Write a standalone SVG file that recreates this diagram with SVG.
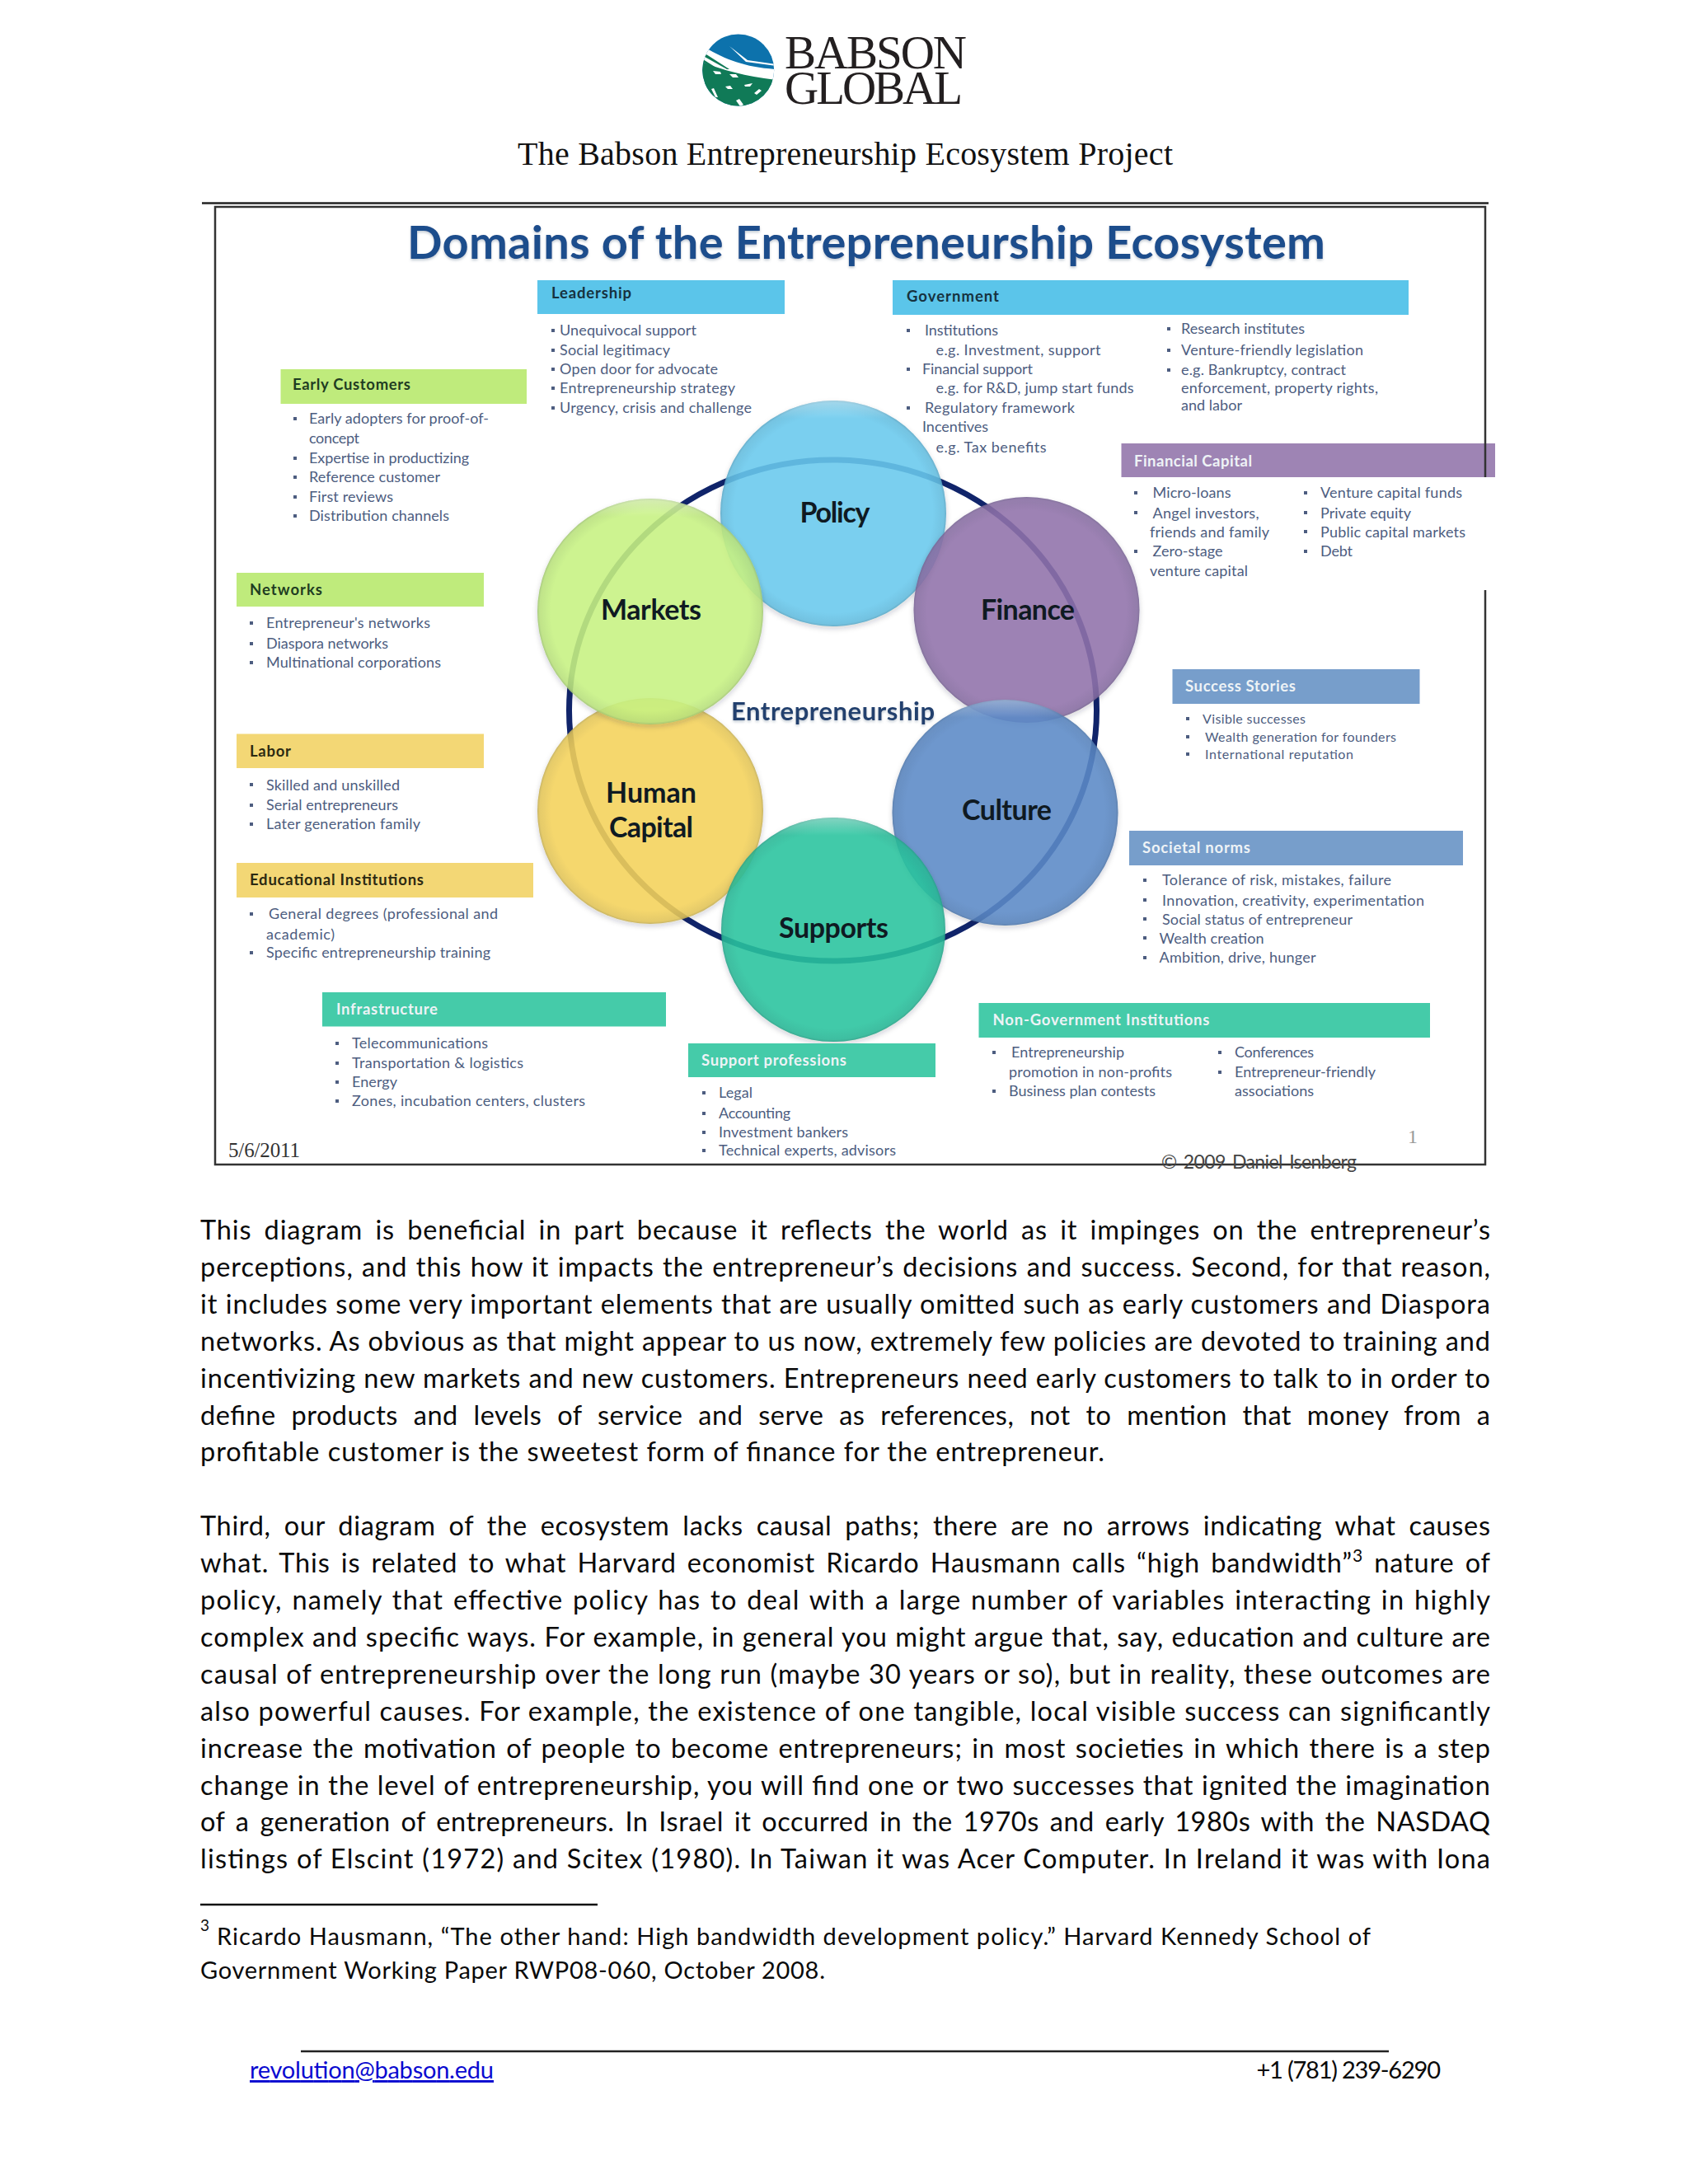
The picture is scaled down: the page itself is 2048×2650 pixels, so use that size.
<svg xmlns="http://www.w3.org/2000/svg" width="2048" height="2650" viewBox="0 0 2048 2650">
<style>
text{font-family:"Lato","Liberation Sans",sans-serif}
.h{font-size:18.500px;font-weight:700;fill:#1f3d22}
.hw{font-size:18.500px;font-weight:700;fill:#eef3f6}
.i{font-size:18px;fill:#4d5d80}
.c{font-size:34px;font-weight:700;fill:#0f1a22}
.p{font-size:32.500px;fill:#0a0a0a}
.f{font-size:29px;fill:#0a0a0a}
.b{fill:#4d5d80}
.rule{stroke:#222;stroke-width:2.500;fill:none}
.green{fill:#bfeb7c}.blue{fill:#5bc5ea}.purple{fill:#9e84b4}.yellow{fill:#f3d775}.steel{fill:#779ecb}.teal{fill:#45cba9}
.disc{fill-opacity:.86}
.edge{fill:url(#edge)}
.gl{fill:url(#gloss)}
</style>
<defs>
<radialGradient id="edge" cx="50%" cy="50%" r="50%"><stop offset="0.88" stop-color="#203040" stop-opacity="0"/><stop offset="0.98" stop-color="#203040" stop-opacity=".08"/><stop offset="1" stop-color="#203040" stop-opacity=".22"/></radialGradient>
<linearGradient id="gloss" x1="0" y1="0" x2="0" y2="1"><stop offset="0" stop-color="#fff" stop-opacity=".35"/><stop offset="0.08" stop-color="#fff" stop-opacity="0"/><stop offset="1" stop-color="#fff" stop-opacity="0"/></linearGradient>
<filter id="sh" x="-10%" y="-10%" width="120%" height="120%"><feDropShadow dx="0" dy="3" stdDeviation="3" flood-color="#223" flood-opacity=".22"/></filter>
<filter id="ts" x="-5%" y="-20%" width="110%" height="140%"><feDropShadow dx="0" dy="2" stdDeviation="1.500" flood-color="#89a" flood-opacity=".5"/></filter>
<clipPath id="lc"><circle cx="895.700" cy="85" r="43.500"/></clipPath>
</defs>
<rect width="2048" height="2650" fill="#fff"/>

<g id="logo">
<g clip-path="url(#lc)">
<rect x="850" y="40" width="92" height="92" fill="#0d72ac"/>
<path d="M856 58 C880 72 905 82 942 84 L942 98 C905 95 880 88 850 74 Z" fill="#fff"/>
<path d="M850 75 C875 84 905 93 942 97 L942 132 L850 132 Z" fill="#107a57"/>
<path d="M885 56 L907 73 L942 78 L942 80 L905 75 Z" fill="#fff"/>
<path d="M857 66 L885 84 L882 84 L855 69 Z M853 72 L872 84 L869 84 L852 75 Z" fill="#107a57"/>
<path d="M865 86 L874 87 L875 90 L868 90 Z M885 90 L893 90 L896 94 L889 94 Z M903 103 L913 101 L910 105 L904 105 Z M880 105 L886 104 L889 108 L883 108 Z M915 113 L921 108 L924 110 L918 115 Z M893 122 L897 120 L902 127 L898 129 Z M863 108 L866 107 L871 118 L868 118 Z" fill="#fff"/>
</g>
<text x="952" y="83" font-size="57" textLength="221" style="font-family:'Liberation Serif',serif" fill="#231f20">BABSON</text>
<text x="952" y="126" font-size="57" textLength="216" style="font-family:'Liberation Serif',serif" fill="#231f20">GLOBAL</text>
</g>
<text id="page-title" x="628" y="200" font-size="40" textLength="795" style="font-family:'Liberation Serif',serif" fill="#111">The Babson Entrepreneurship Ecosystem Project</text>
<path class="rule" d="M245 246.500H1806"/>

<g id="connectors"><ellipse cx="1010.500" cy="862" rx="320" ry="304" fill="none" stroke="#10246a" stroke-width="7"/></g>

<g id="slide-title"><text x="494" y="314" font-size="56" font-weight="700" textLength="1114" fill="#1f4d8c" filter="url(#ts)">Domains of the Entrepreneurship Ecosystem</text></g>

<g id="policy"><circle class="disc" cx="1011" cy="623" r="137" fill="#6accf0" filter="url(#sh)"/><circle class="edge" cx="1011" cy="623" r="137"/><circle class="gl" cx="1011" cy="623" r="137"/></g>
<g id="finance"><circle class="disc" cx="1245.500" cy="740" r="137" fill="#9273ac" filter="url(#sh)"/><circle class="edge" cx="1245.500" cy="740" r="137"/></g>
<g id="culture"><circle class="disc" cx="1219.500" cy="986" r="137" fill="#5c8cc9" filter="url(#sh)"/><circle class="edge" cx="1219.500" cy="986" r="137"/><circle class="gl" cx="1219.500" cy="986" r="137"/></g>
<g id="human-capital"><circle class="disc" cx="789" cy="984" r="137" fill="#f7d55b" filter="url(#sh)"/><circle class="edge" cx="789" cy="984" r="137"/></g>
<g id="supports"><circle class="disc" cx="1011" cy="1128" r="136" fill="#29c69f" filter="url(#sh)"/><circle class="edge" cx="1011" cy="1128" r="136"/><circle class="gl" cx="1011" cy="1128" r="136"/></g>
<g id="markets"><circle class="disc" cx="789" cy="742" r="137" fill="#caf584" filter="url(#sh)"/><circle class="edge" cx="789" cy="742" r="137"/><circle class="gl" cx="789" cy="742" r="137"/></g>
<g id="circle-labels">
<text class="c" x="970.500" y="634" textLength="85">Policy</text>
<text class="c" x="729" y="752" textLength="122">Markets</text>
<text class="c" x="1190" y="752" textLength="114">Finance</text>
<text class="c" x="735" y="974" textLength="110">Human</text>
<text class="c" x="739" y="1016" textLength="102">Capital</text>
<text class="c" x="1167" y="995" textLength="109">Culture</text>
<text class="c" x="945" y="1138" textLength="133">Supports</text>
<text x="887" y="873.500" font-size="31" font-weight="700" textLength="247" fill="#21406e" filter="url(#ts)">Entrepreneurship</text>
</g>

<g id="leadership">
<rect class="blue" x="652" y="340" width="300" height="41"/>
<text class="h" style="fill:#16323f" x="669" y="362" textLength="97">Leadership</text>
<path class="b" d="M669 399h4v4h-4zM669 423h4v4h-4zM669 446h4v4h-4zM669 469h4v4h-4zM669 493h4v4h-4z"/>
<text class="i" x="679" y="407" textLength="166">Unequivocal support</text>
<text class="i" x="679" y="431" textLength="134">Social legitimacy</text>
<text class="i" x="679" y="454" textLength="192">Open door for advocate</text>
<text class="i" x="679" y="477" textLength="213">Entrepreneurship strategy</text>
<text class="i" x="679" y="501" textLength="233">Urgency, crisis and challenge</text>
</g>

<g id="government">
<rect class="blue" x="1083" y="340" width="626" height="42"/>
<text class="h" style="fill:#16323f" x="1100" y="366" textLength="112">Government</text>
<path class="b" d="M1100 399h4v4h-4zM1100 446h4v4h-4zM1100 493h4v4h-4zM1416 397h4v4h-4zM1416 423h4v4h-4zM1416 447h4v4h-4z"/>
<text class="i" x="1122" y="407" textLength="89">Institutions</text>
<text class="i" x="1135.500" y="431" textLength="200">e.g. Investment, support</text>
<text class="i" x="1119" y="454" textLength="134">Financial support</text>
<text class="i" x="1135.500" y="477" textLength="240">e.g. for R&amp;D, jump start funds</text>
<text class="i" x="1122" y="501" textLength="182">Regulatory framework</text>
<text class="i" x="1119" y="524" textLength="80">Incentives</text>
<text class="i" x="1135.500" y="549" textLength="134">e.g. Tax benefits</text>
<text class="i" x="1433" y="405" textLength="150">Research institutes</text>
<text class="i" x="1433" y="431" textLength="221">Venture-friendly legislation</text>
<text class="i" x="1433" y="455" textLength="200">e.g. Bankruptcy, contract</text>
<text class="i" x="1433" y="477" textLength="239">enforcement, property rights,</text>
<text class="i" x="1433" y="498" textLength="74">and labor</text>
</g>

<g id="early-customers">
<rect class="green" x="340.500" y="448" width="298.500" height="42"/>
<text class="h" x="355" y="473" textLength="143">Early Customers</text>
<path class="b" d="M356 506h4v4h-4zM356 554h4v4h-4zM356 577h4v4h-4zM356 601h4v4h-4zM356 624h4v4h-4z"/>
<text class="i" x="375" y="514" textLength="218">Early adopters for proof-of-</text>
<text class="i" x="375" y="538" textLength="61">concept</text>
<text class="i" x="375" y="562" textLength="194">Expertise in productizing</text>
<text class="i" x="375" y="585" textLength="159">Reference customer</text>
<text class="i" x="375" y="609" textLength="102">First reviews</text>
<text class="i" x="375" y="632" textLength="170">Distribution channels</text>
</g>

<g id="networks">
<rect class="green" x="287" y="695" width="300" height="41"/>
<text class="h" x="303" y="722" textLength="88">Networks</text>
<path class="b" d="M303 754h4v4h-4zM303 779h4v4h-4zM303 802h4v4h-4z"/>
<text class="i" x="323" y="762" textLength="199">Entrepreneur's networks</text>
<text class="i" x="323" y="787" textLength="148">Diaspora networks</text>
<text class="i" x="323" y="810" textLength="212">Multinational corporations</text>
</g>

<g id="labor">
<rect class="yellow" x="287" y="890.500" width="300" height="41.500"/>
<text class="h" x="303" y="918" textLength="50" style="fill:#2c2a12">Labor</text>
<path class="b" d="M303 950h4v4h-4zM303 975h4v4h-4zM303 998h4v4h-4z"/>
<text class="i" x="323" y="958.500" textLength="162">Skilled and unskilled</text>
<text class="i" x="323" y="983" textLength="160">Serial entrepreneurs</text>
<text class="i" x="323" y="1006" textLength="187">Later generation family</text>
</g>

<g id="educational-institutions">
<rect class="yellow" x="287" y="1047" width="360" height="42"/>
<text class="h" x="303" y="1074" textLength="211" style="fill:#2c2a12">Educational Institutions</text>
<path class="b" d="M303 1107h4v4h-4zM303 1154h4v4h-4z"/>
<text class="i" x="326" y="1115" textLength="278">General degrees (professional and</text>
<text class="i" x="323" y="1140" textLength="83">academic)</text>
<text class="i" x="323" y="1162" textLength="272">Specific entrepreneurship training</text>
</g>

<g id="infrastructure">
<rect class="teal" x="391" y="1204" width="417" height="41.500"/>
<text class="hw" x="408" y="1231" textLength="123">Infrastructure</text>
<path class="b" d="M407 1264h4v4h-4zM407 1288h4v4h-4zM407 1311h4v4h-4zM407 1334h4v4h-4z"/>
<text class="i" x="427" y="1272" textLength="165">Telecommunications</text>
<text class="i" x="427" y="1296" textLength="208">Transportation &amp; logistics</text>
<text class="i" x="427" y="1319" textLength="55">Energy</text>
<text class="i" x="427" y="1342" textLength="283">Zones, incubation centers, clusters</text>
</g>

<g id="support-professions">
<rect class="teal" x="835" y="1266" width="300" height="41"/>
<text class="hw" x="851" y="1293" textLength="176">Support professions</text>
<path class="b" d="M852 1324h4v4h-4zM852 1349h4v4h-4zM852 1372h4v4h-4zM852 1394h4v4h-4z"/>
<text class="i" x="872" y="1332" textLength="41">Legal</text>
<text class="i" x="872" y="1357" textLength="87">Accounting</text>
<text class="i" x="872" y="1379.500" textLength="157">Investment bankers</text>
<text class="i" x="872" y="1402" textLength="215">Technical experts, advisors</text>
</g>

<g id="financial-capital">
<rect class="purple" x="1360.500" y="538" width="453.500" height="41"/>
<text class="hw" x="1376" y="566" textLength="143">Financial Capital</text>
<path class="b" d="M1376 596h4v4h-4zM1376 620h4v4h-4zM1376 667h4v4h-4zM1582 596h4v4h-4zM1582 620h4v4h-4zM1582 643h4v4h-4zM1582 667h4v4h-4z"/>
<text class="i" x="1398.500" y="604" textLength="95">Micro-loans</text>
<text class="i" x="1398.500" y="628.500" textLength="129">Angel investors,</text>
<text class="i" x="1395" y="651.500" textLength="145">friends and family</text>
<text class="i" x="1398.500" y="674.500" textLength="85">Zero-stage</text>
<text class="i" x="1395" y="699" textLength="119">venture capital</text>
<text class="i" x="1602" y="604" textLength="172">Venture capital funds</text>
<text class="i" x="1602" y="628.500" textLength="110">Private equity</text>
<text class="i" x="1602" y="651.500" textLength="176">Public capital markets</text>
<text class="i" x="1602" y="674.500" textLength="39">Debt</text>
</g>

<g id="success-stories">
<rect class="steel" x="1422.500" y="812" width="300" height="42"/>
<text class="hw" x="1438" y="839" textLength="134">Success Stories</text>
<path class="b" d="M1439 870h4v4h-4zM1439 892h4v4h-4zM1439 913h4v4h-4z"/>
<text class="i" style="font-size:16px" x="1459" y="878" textLength="125">Visible successes</text>
<text class="i" style="font-size:16px" x="1462" y="900" textLength="232">Wealth generation for founders</text>
<text class="i" style="font-size:16px" x="1462" y="921" textLength="180">International reputation</text>
</g>

<g id="societal-norms">
<rect class="steel" x="1370" y="1008" width="405" height="42"/>
<text class="hw" x="1386" y="1035" textLength="131">Societal norms</text>
<path class="b" d="M1387 1066h4v4h-4zM1387 1090h4v4h-4zM1387 1113h4v4h-4zM1387 1136h4v4h-4zM1387 1160h4v4h-4z"/>
<text class="i" x="1410" y="1074" textLength="278">Tolerance of risk, mistakes, failure</text>
<text class="i" x="1410" y="1098.500" textLength="318">Innovation, creativity, experimentation</text>
<text class="i" x="1410" y="1121.500" textLength="231">Social status of entrepreneur</text>
<text class="i" x="1406.500" y="1144.500" textLength="127">Wealth creation</text>
<text class="i" x="1406.500" y="1168" textLength="190">Ambition, drive, hunger</text>
</g>

<g id="non-government-institutions">
<rect class="teal" x="1187.500" y="1217" width="547.500" height="42"/>
<text class="hw" x="1204.500" y="1244" textLength="263">Non-Government Institutions</text>
<path class="b" d="M1204 1275h4v4h-4zM1204 1322h4v4h-4zM1478 1275h4v4h-4zM1478 1299h4v4h-4z"/>
<text class="i" x="1227" y="1283" textLength="137">Entrepreneurship</text>
<text class="i" x="1224" y="1307" textLength="198">promotion in non-profits</text>
<text class="i" x="1224" y="1330" textLength="178">Business plan contests</text>
<text class="i" x="1498" y="1283" textLength="96">Conferences</text>
<text class="i" x="1498" y="1307" textLength="171">Entrepreneur-friendly</text>
<text class="i" x="1498" y="1330" textLength="96">associations</text>
</g>

<g id="slide-frame">
<path d="M1802 579V251H261V1413H1802V716" fill="none" stroke="#333" stroke-width="2.500"/>
<text x="277" y="1404" font-size="25" textLength="87" style="font-family:'Liberation Serif',serif" fill="#333">5/6/2011</text>
<text x="1708" y="1387" font-size="24" textLength="11" style="font-family:'Liberation Serif',serif" fill="#999">1</text>
<text x="1409" y="1418" font-size="23" textLength="237" fill="#444" style="word-spacing:3px">© 2009 Daniel Isenberg</text>
</g>

<g id="body-text">
<text class="p" x="243" y="1504" textLength="1565" style="word-spacing:6px">This diagram is beneficial in part because it reflects the world as it impinges on the entrepreneur’s</text>
<text class="p" x="243" y="1548.900" textLength="1565" style="word-spacing:1px">perceptions, and this how it impacts the entrepreneur’s decisions and success. Second, for that reason,</text>
<text class="p" x="243" y="1593.800" textLength="1565">it includes some very important elements that are usually omitted such as early customers and Diaspora</text>
<text class="p" x="243" y="1638.700" textLength="1565">networks. As obvious as that might appear to us now, extremely few policies are devoted to training and</text>
<text class="p" x="243" y="1683.600" textLength="1565">incentivizing new markets and new customers. Entrepreneurs need early customers to talk to in order to</text>
<text class="p" x="243" y="1728.500" textLength="1565" style="word-spacing:10px">define products and levels of service and serve as references, not to mention that money from a</text>
<text class="p" x="243" y="1773.400" textLength="1097">profitable customer is the sweetest form of finance for the entrepreneur.</text>
<text class="p" x="243" y="1863.200" textLength="1565" style="word-spacing:7px">Third, our diagram of the ecosystem lacks causal paths; there are no arrows indicating what causes</text>
<text class="p" x="243" y="1908.100" textLength="1565" style="word-spacing:4px">what. This is related to what Harvard economist Ricardo Hausmann calls “high bandwidth”<tspan dy="-13" font-size="21">3</tspan><tspan dy="13"> nature of</tspan></text>
<text class="p" x="243" y="1953" textLength="1565" style="word-spacing:2px">policy, namely that effective policy has to deal with a large number of variables interacting in highly</text>
<text class="p" x="243" y="1997.900" textLength="1565">complex and specific ways. For example, in general you might argue that, say, education and culture are</text>
<text class="p" x="243" y="2042.800" textLength="1565">causal of entrepreneurship over the long run (maybe 30 years or so), but in reality, these outcomes are</text>
<text class="p" x="243" y="2087.700" textLength="1565">also powerful causes. For example, the existence of one tangible, local visible success can significantly</text>
<text class="p" x="243" y="2132.600" textLength="1565" style="word-spacing:2px">increase the motivation of people to become entrepreneurs; in most societies in which there is a step</text>
<text class="p" x="243" y="2177.500" textLength="1565">change in the level of entrepreneurship, you will find one or two successes that ignited the imagination</text>
<text class="p" x="243" y="2222.400" textLength="1565" style="word-spacing:4px">of a generation of entrepreneurs. In Israel it occurred in the 1970s and early 1980s with the NASDAQ</text>
<text class="p" x="243" y="2267.300" textLength="1565">listings of Elscint (1972) and Scitex (1980). In Taiwan it was Acer Computer. In Ireland it was with Iona</text>
</g>

<g id="footnote">
<path d="M243 2311H725" stroke="#111" stroke-width="2.500"/>
<text x="243" y="2343" font-size="19" fill="#111">3</text>
<text class="f" x="263" y="2360" textLength="1400">Ricardo Hausmann, “The other hand: High bandwidth development policy.” Harvard Kennedy School of</text>
<text class="f" x="243" y="2401" textLength="758">Government Working Paper RWP08-060, October 2008.</text>
</g>

<g id="footer">
<path class="rule" d="M365 2489H1685"/>
<text x="303" y="2522" font-size="29" textLength="296" fill="#0a0ad0" text-decoration="underline">revolution@babson.edu</text>
<text x="1524.500" y="2522" font-size="29" textLength="223.500" fill="#0a0a0a">+1 (781) 239-6290</text>
</g>
</svg>
